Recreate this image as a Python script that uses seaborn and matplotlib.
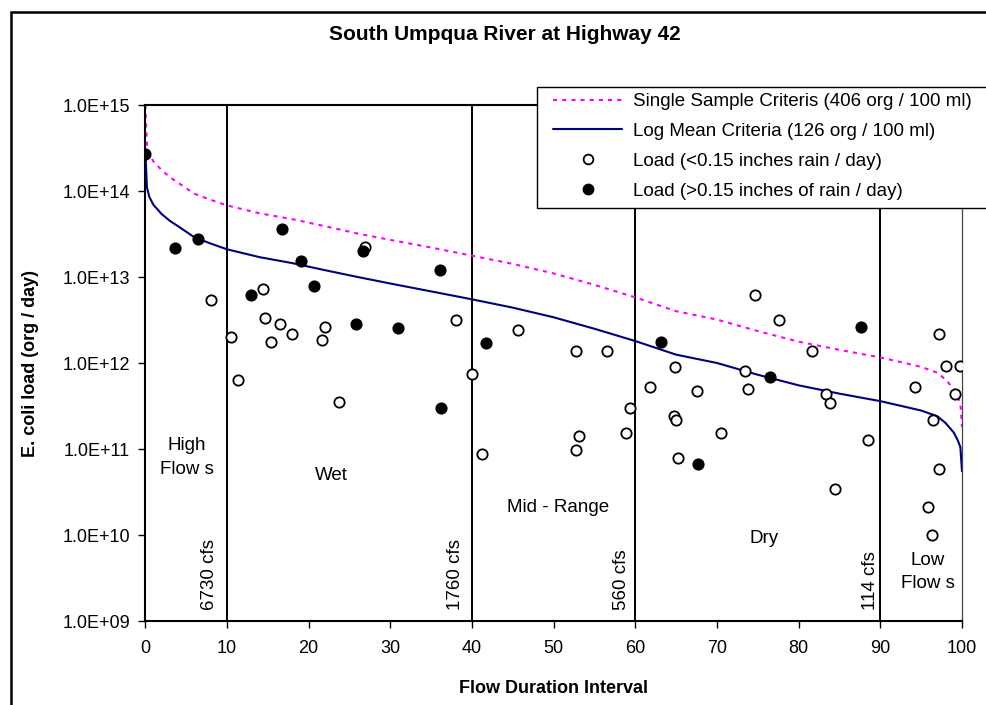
import numpy as np
import pandas as pd
import matplotlib
matplotlib.use("Agg")
import matplotlib.pyplot as plt
import seaborn as sns
from matplotlib.lines import Line2D
from matplotlib.patches import Rectangle
from matplotlib.ticker import FuncFormatter, FixedLocator, NullLocator

# ---- load duration curves (flow duration interval, %) ----
flow_pct = [0, 0.2, 0.5, 1, 2, 3, 4, 6, 8, 10, 14, 18, 22, 26, 30, 35, 40, 45, 50,
            55, 60, 65, 70, 75, 80, 85, 90, 93, 95, 97, 98, 99, 99.5, 99.8, 100]
log_mean_load = [3.1e14, 1.1e14, 8.5e13, 6.9e13, 5.4e13, 4.5e13, 3.9e13, 2.9e13, 2.45e13,
                 2.1e13, 1.7e13, 1.45e13, 1.2e13, 1.0e13, 8.4e12, 6.8e12, 5.5e12, 4.4e12,
                 3.4e12, 2.5e12, 1.8e12, 1.25e12, 1.0e12, 7.3e11, 5.5e11, 4.4e11, 3.6e11,
                 3.1e11, 2.8e11, 2.4e11, 2.0e11, 1.55e11, 1.25e11, 1.05e11, 5.5e10]
single_sample_load = [1.0e15, 3.5e14, 2.7e14, 2.2e14, 1.75e14, 1.45e14, 1.25e14, 9.3e13, 7.9e13,
                      6.8e13, 5.5e13, 4.7e13, 3.9e13, 3.2e13, 2.7e13, 2.2e13, 1.77e13, 1.42e13,
                      1.1e13, 8.1e12, 5.8e12, 4.0e12, 3.2e12, 2.35e12, 1.77e12, 1.42e12, 1.16e12,
                      1.0e12, 9.0e11, 7.7e11, 6.4e11, 5.0e11, 4.0e11, 3.4e11, 1.8e11]

# ---- observed loads, days with < 0.15 in of rain ----
dry_pct = [8.0, 10.5, 11.3, 14.4, 14.7, 15.4, 16.5, 18.0, 21.6, 22.0, 23.7, 26.9, 38.0,
           40.0, 41.2, 45.6, 52.7, 52.7, 53.1, 56.5, 58.9, 59.3, 61.8, 64.7, 64.8, 65.0,
           65.2, 67.6, 70.5, 73.4, 73.8, 74.7, 77.6, 81.6, 83.4, 83.8, 84.5, 88.5, 94.3,
           95.8, 96.3, 96.5, 97.2, 97.2, 98.1, 99.1, 99.8]
dry_load = [5.4e12, 2.0e12, 6.3e11, 7.2e12, 3.3e12, 1.75e12, 2.85e12, 2.2e12, 1.85e12, 2.6e12,
            3.5e11, 2.25e13, 3.15e12, 7.4e11, 8.7e10, 2.4e12, 1.38e12, 9.8e10, 1.4e11, 1.38e12,
            1.55e11, 3.0e11, 5.2e11, 2.4e11, 8.9e11, 2.2e11, 7.9e10, 4.7e11, 1.55e11, 8.1e11,
            5.0e11, 6.2e12, 3.15e12, 1.38e12, 4.4e11, 3.4e11, 3.4e10, 1.27e11, 5.2e11,
            2.1e10, 1.0e10, 2.2e11, 2.2e12, 5.8e10, 9.3e11, 4.4e11, 9.3e11]

# ---- observed loads, days with > 0.15 in of rain ----
wet_pct = [0.0, 3.6, 6.45, 12.9, 16.7, 19.1, 20.7, 25.8, 26.7, 30.9, 36.1, 36.2, 41.7,
           63.2, 67.7, 76.5, 87.6]
wet_load = [2.7e14, 2.2e13, 2.8e13, 6.1e12, 3.6e13, 1.55e13, 7.9e12, 2.85e12, 2.0e13,
            2.55e12, 1.2e13, 3.0e11, 1.7e12, 1.75e12, 6.7e10, 6.9e11, 2.6e12]

# ---- flow regime breaks ----
break_pct = [10, 40, 60, 90]
break_flow = ["6730 cfs", "1760 cfs", "560 cfs", "114 cfs"]
zone_names = ["High\nFlow s", "Wet", "Mid - Range", "Dry", "Low\nFlow s"]

legend_labels = ["Single Sample Criteris (406 org / 100 ml)",
                 "Log Mean Criteria (126 org / 100 ml)",
                 "Load (<0.15 inches rain / day)",
                 "Load (>0.15 inches of rain / day)"]

sns.set_theme(style="white")
plt.rcParams["font.family"] = ["Liberation Sans", "DejaVu Sans"]
plt.rcParams["axes.unicode_minus"] = False
plt.rcParams["text.color"] = "black"
plt.rcParams["axes.labelcolor"] = "black"
plt.rcParams["xtick.color"] = "black"
plt.rcParams["ytick.color"] = "black"

W, H = 986, 705
fig = plt.figure(figsize=(W / 100, H / 100), dpi=100)
fig.patch.set_facecolor("white")

# outer chart border
fig.add_artist(Rectangle((11 / W, -0.05), 1.2, 1 - 12 / H + 0.05, transform=fig.transFigure,
                         fill=False, edgecolor="black", linewidth=1.8))

ax = fig.add_axes([145.3 / W, 1 - 621 / H, (962 - 145.3) / W, (621 - 105) / H])
ax.set_facecolor("white")

curves = pd.DataFrame({"pct": flow_pct, "ssm": single_sample_load, "lm": log_mean_load})
dry = pd.DataFrame({"pct": dry_pct, "load": dry_load})
wet = pd.DataFrame({"pct": wet_pct, "load": wet_load})

for xb in break_pct:
    ax.axvline(xb, color="black", lw=1.4, zorder=1)

sns.lineplot(data=curves, x="pct", y="ssm", ax=ax, color="#FF00FF", lw=1.5, zorder=2)
ax.lines[-1].set_dashes((2.0, 2.4))
sns.lineplot(data=curves, x="pct", y="lm", ax=ax, color="#000080", lw=1.5, zorder=3)

sns.scatterplot(data=dry, x="pct", y="load", ax=ax, s=55, marker="o",
                facecolor="white", edgecolor="black", linewidth=1.3, zorder=4)
sns.scatterplot(data=wet, x="pct", y="load", ax=ax, s=60, marker="o",
                color="black", edgecolor="black", linewidth=1.0, zorder=5)

ax.set_yscale("log")
ax.set_xlim(0, 100)
ax.set_ylim(1e9, 1e15)
ax.set_xticks(np.arange(0, 101, 10))
ax.yaxis.set_major_locator(FixedLocator([10.0 ** k for k in range(9, 16)]))
ax.yaxis.set_minor_locator(NullLocator())
ax.yaxis.set_major_formatter(FuncFormatter(lambda v, p: f"{v:.1E}"))
ax.tick_params(axis="both", which="major", direction="out", length=5, width=1.0,
               color="black", labelsize=13, labelcolor="black")
ax.tick_params(axis="y", pad=6)
ax.tick_params(axis="x", pad=9)
ax.tick_params(left=True, bottom=True)

for side in ["left", "bottom", "top"]:
    ax.spines[side].set_color("black")
    ax.spines[side].set_linewidth(1.5)
ax.spines["right"].set_color("#444444")
ax.spines["right"].set_linewidth(0.9)

ax.set_xlabel("Flow Duration Interval", fontsize=13, fontweight="bold", labelpad=16)
ax.set_ylabel("E. coli load (org / day)", fontsize=13, fontweight="bold", labelpad=17)

# flow values at regime breaks
for xt, txt in zip([7.86, 38.0, 58.35, 88.8], break_flow):
    ax.text(xt, 1.33e9, txt, rotation=90, ha="center", va="bottom", fontsize=13.5)

# regime names
zone_pos = [(5.1, 8.0e10), (22.8, 4.9e10), (50.5, 2.1e10), (75.8, 9.2e9), (95.8, 3.7e9)]
for (xz, yz), name in zip(zone_pos, zone_names):
    ax.text(xz, yz, name, ha="center", va="center", multialignment="center",
            fontsize=13.5, linespacing=1.5)

fig.text(505 / W, 1 - 34 / H, "South Umpqua River at Highway 42", ha="center", va="center",
         fontsize=15, fontweight="bold")

# legend box
ax.add_patch(Rectangle((536.7 / W, 1 - 208.3 / H), (1010 - 536.7) / W, (208.3 - 87.3) / H,
                       transform=fig.transFigure, clip_on=False, facecolor="white",
                       edgecolor="black", linewidth=1.0, zorder=9))

handles = [
    Line2D([], [], color="#FF00FF", lw=1.5, dashes=(2.0, 2.4)),
    Line2D([], [], color="#000080", lw=1.5),
    Line2D([], [], ls="none", marker="o", markersize=7, markerfacecolor="white",
           markeredgecolor="black", markeredgewidth=1.3),
    Line2D([], [], ls="none", marker="o", markersize=7.5, markerfacecolor="black",
           markeredgecolor="black"),
]
leg = ax.legend(handles, legend_labels, loc="upper left",
                bbox_to_anchor=(553 / W, 1 - 93 / H), bbox_transform=fig.transFigure,
                borderaxespad=0, borderpad=0, fontsize=13.5, frameon=False,
                handlelength=3.7, handletextpad=0.55, labelspacing=0.68)
leg.set_zorder(10)

fig.savefig("out.png", dpi=100, facecolor="white")
